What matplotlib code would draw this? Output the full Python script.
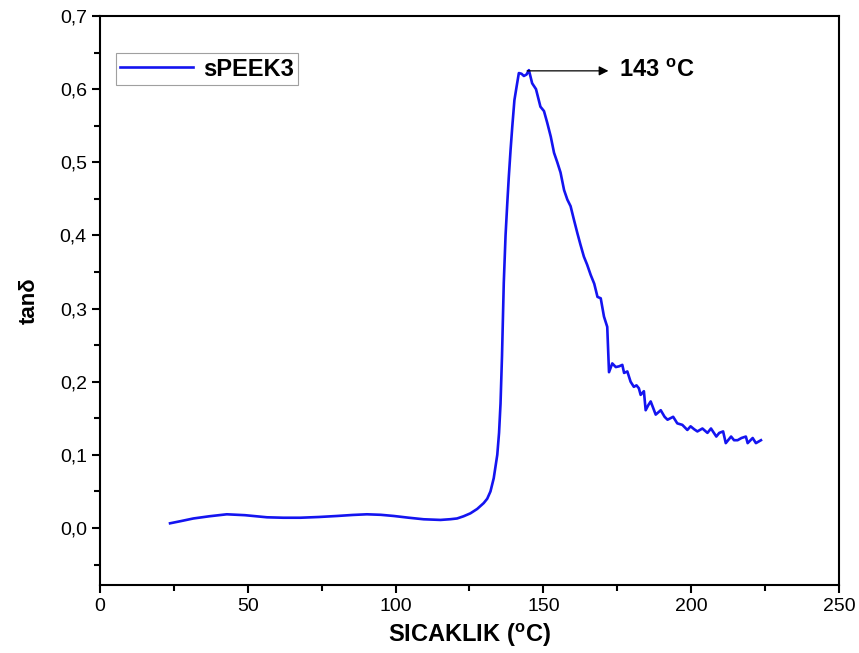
import matplotlib
matplotlib.use("Agg")
import matplotlib.pyplot as plt
from matplotlib.ticker import MultipleLocator

# tan(delta) vs temperature
temp = [23.7, 27.5, 31.6, 37.0, 42.9, 49.0, 56.5, 62.0, 67.8, 74.0, 80.2, 85.5, 90.3,
        95.0, 99.4, 104.5, 109.5, 115.2, 118.6, 120.8, 123.0, 125.3, 127.6, 129.8,
        131.0, 132.1, 133.2, 134.4, 135.0, 135.5, 136.0, 136.6, 137.2, 137.8, 138.3,
        138.9, 139.5, 140.2, 141.0, 141.7, 142.6, 143.4, 144.3, 145.1, 146.2, 147.5,
        149.0, 150.2, 151.3, 152.5, 153.6, 154.7, 155.8, 157.0, 158.1, 159.2, 160.3,
        161.5, 162.5, 163.7, 164.8, 166.0, 167.2, 168.3, 169.4, 170.5, 171.6, 172.2,
        173.3, 174.5, 175.6, 176.7, 177.3, 178.4, 179.5, 180.6, 181.5, 182.3, 182.9,
        184.0, 184.6, 185.5, 186.3, 188.0, 189.7, 191.0, 192.0, 193.9, 195.3, 197.0,
        198.7, 199.8, 201.0, 202.1, 203.8, 205.5, 206.7, 208.5, 209.5, 210.8, 211.7,
        213.5, 214.5, 215.7, 217.0, 218.5, 219.1, 220.8, 221.9, 223.6]
tan_delta = [0.0064, 0.0095, 0.013, 0.016, 0.0187, 0.0175, 0.0146, 0.014, 0.014, 0.015,
             0.0164, 0.0178, 0.0187, 0.018, 0.0164, 0.014, 0.0119, 0.011, 0.012, 0.013,
             0.016, 0.02, 0.026, 0.034, 0.04, 0.05, 0.068, 0.1, 0.13, 0.17, 0.235,
             0.335, 0.40, 0.445, 0.48, 0.517, 0.55, 0.585, 0.605, 0.622, 0.621, 0.618,
             0.62, 0.626, 0.608, 0.6, 0.576, 0.57, 0.554, 0.535, 0.513, 0.5, 0.486, 0.462,
             0.449, 0.44, 0.422, 0.403, 0.388, 0.371, 0.36, 0.346, 0.334, 0.316, 0.314,
             0.289, 0.275, 0.213, 0.225, 0.22, 0.221, 0.223, 0.212, 0.214, 0.2, 0.193,
             0.195, 0.191, 0.182, 0.187, 0.161, 0.168, 0.173, 0.155, 0.161, 0.152, 0.148,
             0.152, 0.143, 0.141, 0.134, 0.139, 0.135, 0.132, 0.136, 0.13, 0.136, 0.125,
             0.13, 0.132, 0.116, 0.125, 0.12, 0.12, 0.123, 0.125, 0.116, 0.123, 0.116, 0.12]

peak_temp = 144.5
peak_val = 0.625
arrow_end = 172.0

xticks = [0, 50, 100, 150, 200, 250]
yticks = [0.0, 0.1, 0.2, 0.3, 0.4, 0.5, 0.6, 0.7]
ytick_labels = ["0,0", "0,1", "0,2", "0,3", "0,4", "0,5", "0,6", "0,7"]

plt.rcParams["font.family"] = ["Liberation Sans", "DejaVu Sans"]
plt.rcParams["mathtext.fontset"] = "custom"
plt.rcParams["mathtext.rm"] = "Liberation Sans:bold"

fig = plt.figure(figsize=(8.59, 6.53), dpi=100)
ax = fig.add_axes([0.1164, 0.1041, 0.8603, 0.8714])

ax.plot(temp, tan_delta, color="#1414f0", lw=1.9, label="sPEEK3")

ax.annotate("", xy=(arrow_end, peak_val), xytext=(peak_temp, peak_val),
            arrowprops=dict(arrowstyle="-|>", color="black", lw=0.9,
                            mutation_scale=14, shrinkA=0, shrinkB=0))
ax.text(arrow_end + 3.5, peak_val, "143 $^{\\mathregular{o}}$C", fontsize=17,
        fontweight="bold", va="center", ha="left")

ax.set_xlim(0, 250)
ax.set_ylim(-0.078, 0.7)
ax.set_xticks(xticks)
ax.set_yticks(yticks)
ax.set_yticklabels(ytick_labels)
ax.xaxis.set_minor_locator(MultipleLocator(25))
ax.yaxis.set_minor_locator(MultipleLocator(0.05))
ax.tick_params(which="both", direction="out", width=1.5, top=False, right=False,
               labelsize=14)
ax.tick_params(which="major", length=6)
ax.tick_params(which="minor", length=4)
for s in ax.spines.values():
    s.set_linewidth(1.5)

ax.set_xlabel("SICAKLIK ($^{\\mathregular{o}}$C)", fontsize=17, fontweight="bold", labelpad=4)
ax.set_ylabel("tan\u03b4", fontsize=16, fontweight="bold", labelpad=14)

leg = ax.legend(loc="upper left", bbox_to_anchor=(0.021, 0.935),
                prop={"weight": "bold", "size": 17},
                fancybox=False, handlelength=3.1, handletextpad=0.4, borderpad=0.2,
                borderaxespad=0)
leg.get_frame().set_edgecolor("#888888")
leg.get_frame().set_linewidth(0.8)

fig.savefig("out.png", dpi=100)
